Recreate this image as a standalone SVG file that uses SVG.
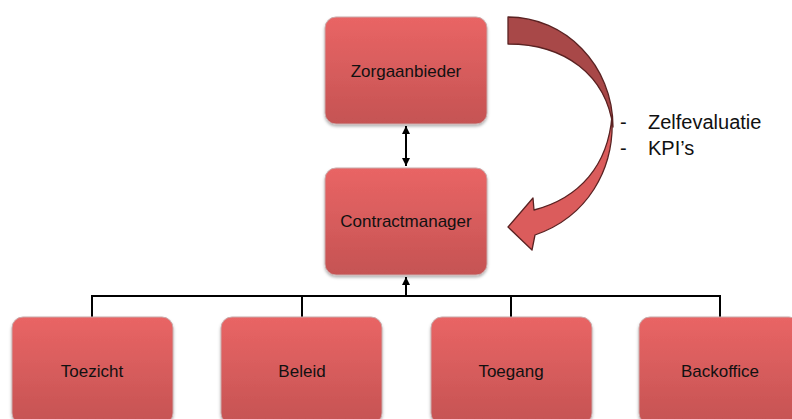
<svg xmlns="http://www.w3.org/2000/svg" width="792" height="419" viewBox="0 0 792 419">
  <defs>
    <linearGradient id="boxGrad" x1="0" y1="0" x2="0" y2="1">
      <stop offset="0" stop-color="#e96565"/>
      <stop offset="1" stop-color="#c55353"/>
    </linearGradient>
    <filter id="shadow" x="-10%" y="-10%" width="120%" height="130%">
      <feDropShadow dx="0" dy="2" stdDeviation="1.5" flood-color="#000" flood-opacity="0.3"/>
    </filter>
    <marker id="arrowEnd" viewBox="0 0 10 10" refX="10" refY="5" markerWidth="4" markerHeight="4" orient="auto" markerUnits="strokeWidth">
      <path d="M0,0 L10,5 L0,10 Z" fill="#000"/>
    </marker>
    <marker id="arrowStart" viewBox="0 0 10 10" refX="0" refY="5" markerWidth="4" markerHeight="4" orient="auto" markerUnits="strokeWidth">
      <path d="M10,0 L0,5 L10,10 Z" fill="#000"/>
    </marker>
  </defs>
  <style>
    .box { fill: url(#boxGrad); stroke: #c9aaaa; stroke-width: 1; filter: url(#shadow); }
    .label { font-family: "Liberation Sans", Arial, sans-serif; font-size: 17px; fill: #111; text-anchor: middle; }
    .note { font-family: "Liberation Sans", Arial, sans-serif; font-size: 20px; fill: #111; }
    .conn { stroke: #000; stroke-width: 2; fill: none; }
    .curve { stroke: #5a2222; stroke-width: 1.3; stroke-linejoin: round; }
  </style>

  <rect width="792" height="419" fill="#ffffff"/>

  <g id="connectors">
    <line class="conn" x1="406" y1="126" x2="406" y2="166" marker-start="url(#arrowStart)" marker-end="url(#arrowEnd)"/>
    <line class="conn" x1="406" y1="296" x2="406" y2="277" marker-end="url(#arrowEnd)"/>
    <polyline class="conn" points="92,317 92,296 720,296 720,317"/>
    <line class="conn" x1="302" y1="296" x2="302" y2="317"/>
    <line class="conn" x1="511" y1="296" x2="511" y2="317"/>
  </g>

  <g id="feedback-arrow">
    <path class="curve" fill="#a84848" d="M508,17 C565,17 613,65 613,127 C606,75 565,44 508,44 Z"/>
    <path class="curve" fill="#db5c5c" d="M612,116 C615,170 587,217 535,235 L532,250 L508,227 L533,198 L534,210 C580,198 608,165 612,116 Z"/>
  </g>

  <g id="node-zorgaanbieder">
    <rect class="box" x="325" y="17" width="162" height="107" rx="11"/>
    <text class="label" x="406" y="77">Zorgaanbieder</text>
  </g>

  <g id="node-contractmanager">
    <rect class="box" x="325" y="168" width="162" height="107" rx="11"/>
    <text class="label" x="406" y="227">Contractmanager</text>
  </g>

  <g id="node-toezicht">
    <rect class="box" x="12" y="317" width="161" height="107" rx="11"/>
    <text class="label" x="92" y="377">Toezicht</text>
  </g>

  <g id="node-beleid">
    <rect class="box" x="221" y="317" width="161" height="107" rx="11"/>
    <text class="label" x="302" y="377">Beleid</text>
  </g>

  <g id="node-toegang">
    <rect class="box" x="431" y="317" width="161" height="107" rx="11"/>
    <text class="label" x="511" y="377">Toegang</text>
  </g>

  <g id="node-backoffice">
    <rect class="box" x="639" y="317" width="161" height="107" rx="11"/>
    <text class="label" x="720" y="377">Backoffice</text>
  </g>

  <g id="notes">
    <text class="note" x="620" y="129">-</text>
    <text class="note" x="648" y="129">Zelfevaluatie</text>
    <text class="note" x="620" y="155">-</text>
    <text class="note" x="648" y="155">KPI’s</text>
  </g>
</svg>
